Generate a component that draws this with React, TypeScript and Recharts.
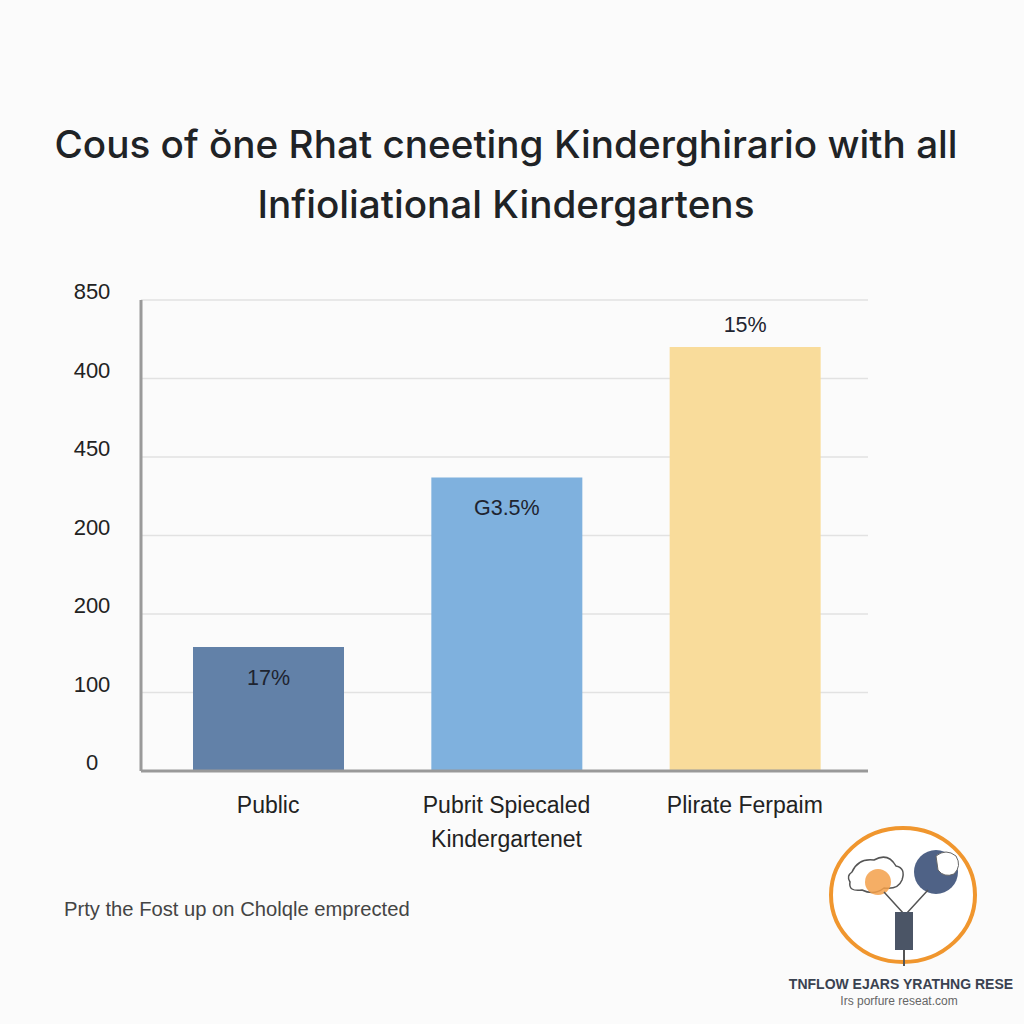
import React from "react";
import { BarChart, Bar, XAxis, YAxis, CartesianGrid, Cell, LabelList } from "recharts";

const titleLines = ["Cous of ŏne Rhat cneeting Kinderghirario with all", "Infioliational Kindergartens"];
const categories = ["Public", "Pubrit Spiecaled\nKindergartenet", "Plirate Ferpaim"];
const values = [158, 374, 540];
const barLabels = ["17%", "G3.5%", "15%"];
const barColors = ["#6281a8", "#7fb1de", "#f9dc9b"];
const yTickValues = [0, 100, 200, 300, 400, 500, 600];
const yTickLabels = ["0", "100", "200", "200", "450", "400", "850"];
const footnote = "Prty the Fost up on Cholqle emprected";
const logoTitle = "TNFLOW EJARS YRATHNG RESE";
const logoSub = "Irs porfure reseat.com";

const data = categories.map((name, i) => ({ name, value: values[i], label: barLabels[i] }));

const FONT = "'Liberation Sans', Arial, sans-serif";

const YTick = (props: any) => {
  const { y, payload } = props;
  const idx = yTickValues.indexOf(payload.value);
  return (
    <text x={92} y={y - 1} textAnchor="middle" fontSize={22} fill="#222" fontFamily={FONT}>
      {yTickLabels[idx]}
    </text>
  );
};

const XTick = (props: any) => {
  const { x, y, payload } = props;
  const lines = String(payload.value).split("\n");
  return (
    <g>
      {lines.map((l, i) => (
        <text key={i} x={x} y={y + 34 + i * 34} textAnchor="middle" fontSize={23} fill="#222" fontFamily={FONT}>
          {l}
        </text>
      ))}
    </g>
  );
};

const BarLabel = (props: any) => {
  const { x, y, width, index } = props;
  const outside = index === 2;
  return (
    <text
      x={x + width / 2}
      y={outside ? y - 15 : y + 38}
      textAnchor="middle"
      fontSize={21.5}
      fill="#1e2430"
      fontFamily={FONT}
    >
      {barLabels[index]}
    </text>
  );
};

export default function App() {
  return (
    <div style={{ position: "absolute", left: 0, top: 0, width: 1024, height: 1024, background: "#fbfbfb", overflow: "hidden" }}>
      <div style={{ position: "absolute", left: 0, top: 114, width: 1012, textAlign: "center", fontFamily: "Inter, 'Liberation Sans', sans-serif", fontWeight: 500, fontSize: 38.7, color: "#1f2326", lineHeight: "60px" }}>
        <div>{titleLines[0]}</div>
        <div>{titleLines[1]}</div>
      </div>
      <div style={{ position: "absolute", left: 0, top: 0 }}>
        <BarChart width={1024} height={1024} data={data} margin={{ top: 300, right: 156, bottom: 0, left: 0 }} barSize={151}>
          <CartesianGrid vertical={false} stroke="#e2e2e2" strokeWidth={1.5} />
          <XAxis
            dataKey="name"
            height={253}
            interval={0}
            padding={{ left: 8, right: 4 }}
            axisLine={{ stroke: "#999", strokeWidth: 3 }}
            tickLine={false}
            tick={<XTick />}
          />
          <YAxis
            width={141}
            domain={[0, 600]}
            ticks={yTickValues}
            axisLine={{ stroke: "#9a9a9a", strokeWidth: 3 }}
            tickLine={false}
            tick={<YTick />}
          />
          <Bar dataKey="value" isAnimationActive={false}>
            {data.map((d, i) => (
              <Cell key={i} fill={barColors[i]} />
            ))}
            <LabelList dataKey="label" content={<BarLabel />} />
          </Bar>
        </BarChart>
      </div>
      <div style={{ position: "absolute", left: 64, top: 898, fontFamily: FONT, fontSize: 20.2, color: "#444" }}>{footnote}</div>
      <svg style={{ position: "absolute", left: 760, top: 820 }} width={264} height={200}>
        <ellipse cx={143} cy={75} rx={72} ry={67} fill="#fff" stroke="#f0962e" strokeWidth={4} />
        <path d="M92 52 q6 -14 22 -12 q14 -8 22 6 q10 2 6 14 q-4 10 -18 8 q-10 8 -22 2 q-14 2 -12 -8 q-4 -6 2 -10 z" fill="#fff" stroke="#555" strokeWidth={1.5} />
        <circle cx={118} cy={62} r={13} fill="#f3a04a" opacity={0.85} />
        <circle cx={176} cy={52} r={22} fill="#4f6286" />
        <path d="M176 36 q10 -8 20 0 q6 10 -2 18 q-10 4 -16 -4 z" fill="#fff" stroke="#666" strokeWidth={1} />
        <path d="M124 72 L144 94 M168 70 L146 94" stroke="#555" strokeWidth={1.5} fill="none" />
        <rect x={135} y={92} width={18} height={38} fill="#4b5566" />
        <line x1={144} y1={130} x2={144} y2={146} stroke="#555" strokeWidth={2} />
        <text x={141} y={169} textAnchor="middle" fontFamily={FONT} fontSize={14} fontWeight={600} fill="#3a4250">{logoTitle}</text>
        <text x={139} y={185} textAnchor="middle" fontFamily={FONT} fontSize={12} fill="#666">{logoSub}</text>
      </svg>
    </div>
  );
}
